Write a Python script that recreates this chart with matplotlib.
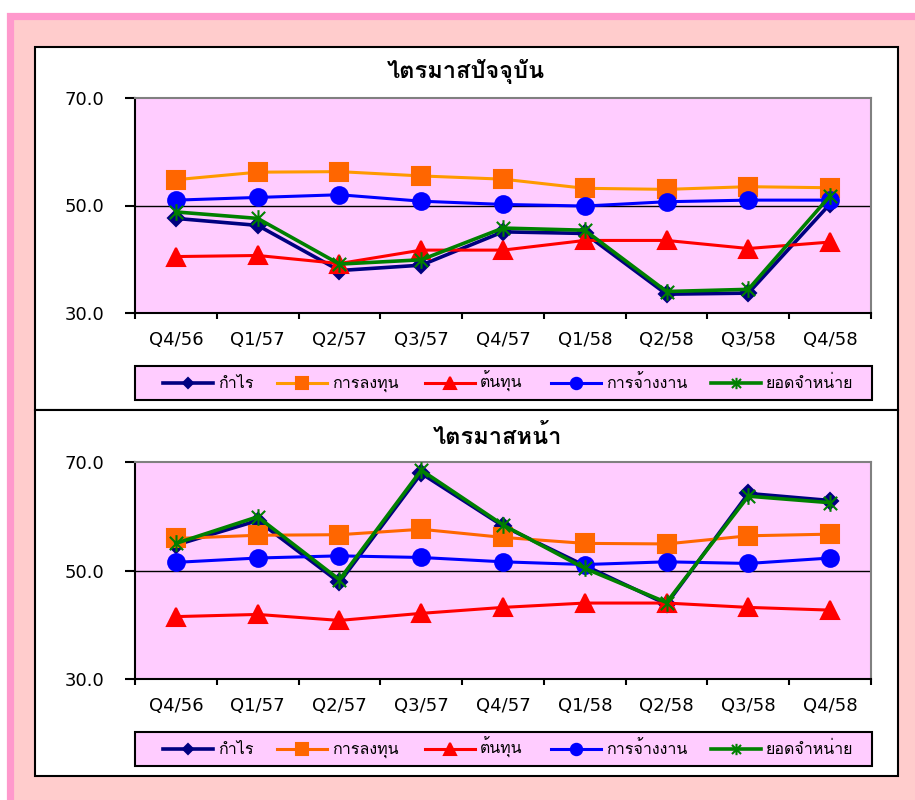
import matplotlib
matplotlib.use("Agg")
import matplotlib.pyplot as plt
from matplotlib import font_manager as fm
from matplotlib.ft2font import FT2Font
from matplotlib.patches import Rectangle
from matplotlib.lines import Line2D
from matplotlib.path import Path
import numpy as np

# ---------------- data ----------------
quarters = ["Q4/56", "Q1/57", "Q2/57", "Q3/57", "Q4/57", "Q1/58", "Q2/58", "Q3/58", "Q4/58"]
series_names = ["กำไร", "การลงทุน", "ต้นทุน", "การจ้างงาน", "ยอดจำหน่าย"]

# current quarter (ไตรมาสปัจจุบัน)
cur_profit = [47.6, 46.3, 37.9, 38.9, 45.1, 44.8, 33.5, 33.7, 50.3]
cur_invest = [54.8, 56.2, 56.3, 55.5, 54.9, 53.2, 53.0, 53.5, 53.3]
cur_cost = [40.5, 40.7, 39.2, 41.7, 41.7, 43.5, 43.5, 42.0, 43.2]
cur_employ = [51.0, 51.5, 52.0, 50.8, 50.2, 49.9, 50.7, 51.0, 51.0]
cur_sales = [48.8, 47.6, 39.1, 39.9, 45.8, 45.4, 34.0, 34.4, 51.8]

# next quarter (ไตรมาสหน้า)
nxt_profit = [54.7, 59.2, 47.8, 67.9, 58.2, 50.9, 43.8, 64.2, 62.9]
nxt_invest = [55.9, 56.5, 56.6, 57.6, 56.1, 55.0, 54.9, 56.4, 56.7]
nxt_cost = [41.5, 41.9, 40.8, 42.1, 43.2, 44.0, 44.0, 43.2, 42.7]
nxt_employ = [51.5, 52.3, 52.7, 52.4, 51.6, 51.1, 51.6, 51.3, 52.3]
nxt_sales = [55.0, 59.9, 48.3, 68.5, 58.4, 50.4, 44.1, 63.7, 62.5]

titles = ["ไตรมาสปัจจุบัน", "ไตรมาสหน้า"]
y_ticks = [30.0, 50.0, 70.0]


# ---------------- fonts ----------------
def find_thai_font():
    seen = []
    for f in fm.fontManager.ttflist:
        try:
            ft = FT2Font(f.fname)
            if ft.get_char_index(ord("ก")) and ft.get_char_index(ord("ไ")):
                seen.append(f.name)
        except Exception:
            pass
    return seen[0] if seen else "DejaVu Sans"

thai = find_thai_font()
plt.rcParams["font.family"] = [thai, "DejaVu Sans"]
LAT = "DejaVu Sans"

W, H = 915, 800
fig = plt.figure(figsize=(W / 100, H / 100), dpi=100)
fig.patch.set_facecolor("white")


def fx(x):
    return x / W


def fy(y):
    return 1 - y / H


def rect_px(x0, y0, x1, y1, **kw):
    r = Rectangle((fx(x0), fy(y1)), fx(x1) - fx(x0), fy(y0) - fy(y1),
                  transform=fig.transFigure, **kw)
    fig.add_artist(r)
    return r


# background frames
rect_px(10, 15.5, 930, 815, facecolor="#FFCCCC", edgecolor="#FF99CC", linewidth=5.2, zorder=-3)
rect_px(35, 47, 898, 410, facecolor="white", edgecolor="black", linewidth=1.5, zorder=-2)
rect_px(35, 410, 898, 776, facecolor="white", edgecolor="black", linewidth=1.5, zorder=-2)

star = Path([(-1, -1), (1, 1), (-1, 1), (1, -1), (0, -1.25), (0, 1.25)],
            [Path.MOVETO, Path.LINETO, Path.MOVETO, Path.LINETO, Path.MOVETO, Path.LINETO])

styles = [
    dict(color="#000080", marker="D", ms=8, mfc="#000080", mec="#000080", lw=2.6, mew=1.5),
    dict(color="#FF9900", marker="s", ms=13, mfc="#FF6600", mec="#FF6600", lw=2.2, mew=1.5),
    dict(color="#FF0000", marker="^", ms=13, mfc="#FF0000", mec="#FF0000", lw=2.2, mew=1.5),
    dict(color="#0000FF", marker="o", ms=12, mfc="#0000FF", mec="#0000FF", lw=2.2, mew=1.5),
    dict(color="#008000", marker=star, ms=12, mfc="none", mec="#008000", lw=2.6, mew=1.5),
]

legend_x = [163, 277, 425, 551, 711]
HANDLE_W = 50

panels = [
    dict(ax=(135, 98, 871, 313), data=[cur_profit, cur_invest, cur_cost, cur_employ, cur_sales],
         title_xy=(466, 72), legend=(135, 366, 872, 400), orange="#FF9900"),
    dict(ax=(135, 462, 871, 679), data=[nxt_profit, nxt_invest, nxt_cost, nxt_employ, nxt_sales],
         title_xy=(497, 437), legend=(135, 732, 872, 766), orange="#FF6600"),
]

x = np.arange(len(quarters))
for i, p in enumerate(panels):
    x0, y0, x1, y1 = p["ax"]
    ax = fig.add_axes([fx(x0), fy(y1), fx(x1) - fx(x0), fy(y0) - fy(y1)])
    ax.set_zorder(1)
    ax.set_facecolor("#FFCCFF")
    for name, vals, st in zip(series_names, p["data"], styles):
        col = p["orange"] if st["marker"] == "s" else st["color"]
        ax.plot(x, vals, color=col, lw=st["lw"], marker=st["marker"],
                markersize=st["ms"], markerfacecolor=st["mfc"],
                markeredgecolor=st["mec"], markeredgewidth=st["mew"],
                label=name, clip_on=False, zorder=3)
    ax.set_xlim(-0.5, len(quarters) - 0.5)
    ax.set_ylim(30, 70)
    ax.set_yticks(y_ticks)
    ax.set_yticklabels([f"{v:.1f}" for v in y_ticks], fontfamily=LAT, fontsize=13)
    ax.axhline(50, color="black", lw=1.0, zorder=1)
    ax.set_xticks(x)
    ax.set_xticklabels(quarters, fontfamily=LAT, fontsize=13)
    ax.set_xticks(np.arange(-0.5, len(quarters)), minor=True)
    ax.tick_params(axis="x", which="major", length=0, pad=13)
    ax.tick_params(axis="x", which="minor", length=4.5, width=1.5, direction="out")
    ax.tick_params(axis="y", length=7, width=1.5, direction="out", pad=15)
    for s in ["left", "bottom"]:
        ax.spines[s].set_color("black")
        ax.spines[s].set_linewidth(1.5)
    for s in ["top", "right"]:
        ax.spines[s].set_color("#808080")
        ax.spines[s].set_linewidth(1.5)

    tx, ty = p["title_xy"]
    fig.text(fx(tx), fy(ty), titles[i], ha="center", va="center", fontsize=17,
             fontweight="bold", color="black")

    # legend box drawn by hand so each entry sits where the reference has it
    lx0, ly0, lx1, ly1 = p["legend"]
    rect_px(lx0, ly0, lx1, ly1, facecolor="#FFCCFF", edgecolor="black", linewidth=1.5, zorder=4)
    yc = (ly0 + ly1) / 2
    for name, st, lxp in zip(series_names, styles, legend_x):
        col = p["orange"] if st["marker"] == "s" else st["color"]
        fig.add_artist(Line2D([fx(lxp), fx(lxp + HANDLE_W)], [fy(yc), fy(yc)],
                              transform=fig.transFigure, color=col, lw=st["lw"], zorder=5))
        fig.add_artist(Line2D([fx(lxp + HANDLE_W / 2)], [fy(yc)], transform=fig.transFigure,
                              linestyle="none", marker=st["marker"], markersize=st["ms"] * 0.68,
                              markerfacecolor=st["mfc"], markeredgecolor=st["mec"],
                              markeredgewidth=st["mew"], zorder=6))
        fig.text(fx(lxp + HANDLE_W + 5), fy(yc + 5), name, ha="left", va="baseline",
                 fontsize=11.5, color="black", zorder=6)

fig.savefig("out.png", dpi=100)
